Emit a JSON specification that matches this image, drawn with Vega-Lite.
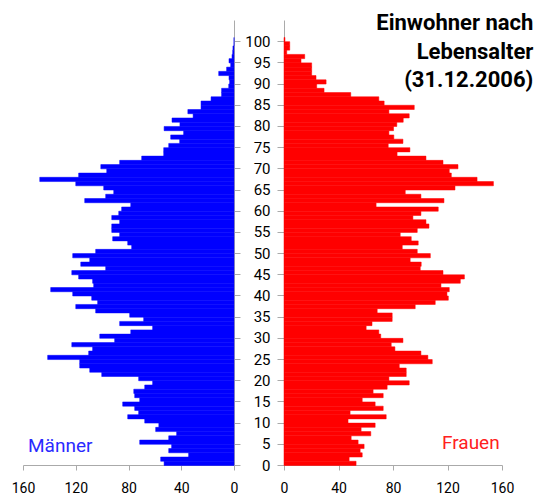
{
  "$schema": "https://vega.github.io/schema/vega-lite/v6.json",
  "padding": {"left": 11, "top": 12, "right": 2, "bottom": 2},
  "config": {
    "view": {"stroke": null},
    "font": "Roboto, Liberation Sans, sans-serif",
    "axis": {
      "grid": false,
      "domainColor": "#aaaaaa",
      "tickColor": "#aaaaaa",
      "labelColor": "#000000",
      "labelFont": "Roboto, Liberation Sans, sans-serif",
      "title": null
    },
    "bar": {"binSpacing": 0}
  },
  "datasets": {
    "pop": [
      {"age":0,"sex":"M","value":53},{"age":1,"sex":"M","value":55.6},{"age":2,"sex":"M","value":34.4},{"age":3,"sex":"M","value":49.5},{"age":4,"sex":"M","value":47.3},
      {"age":5,"sex":"M","value":71.5},{"age":6,"sex":"M","value":49.5},{"age":7,"sex":"M","value":43.5},{"age":8,"sex":"M","value":59.4},{"age":9,"sex":"M","value":57},
      {"age":10,"sex":"M","value":67.7},{"age":11,"sex":"M","value":80.6},{"age":12,"sex":"M","value":72.3},{"age":13,"sex":"M","value":75.3},{"age":14,"sex":"M","value":84.4},
      {"age":15,"sex":"M","value":71.5},{"age":16,"sex":"M","value":75.3},{"age":17,"sex":"M","value":76},{"age":18,"sex":"M","value":67.7},{"age":19,"sex":"M","value":61.7},
      {"age":20,"sex":"M","value":72.3},{"age":21,"sex":"M","value":100.3},{"age":22,"sex":"M","value":109.4},{"age":23,"sex":"M","value":117},{"age":24,"sex":"M","value":117},
      {"age":25,"sex":"M","value":141.3},{"age":26,"sex":"M","value":110.2},{"age":27,"sex":"M","value":107.2},{"age":28,"sex":"M","value":123},{"age":29,"sex":"M","value":90.5},
      {"age":30,"sex":"M","value":101.8},{"age":31,"sex":"M","value":78.3},{"age":32,"sex":"M","value":61.7},{"age":33,"sex":"M","value":86.7},{"age":34,"sex":"M","value":68.5},
      {"age":35,"sex":"M","value":79.1},{"age":36,"sex":"M","value":104.9},{"age":37,"sex":"M","value":120},{"age":38,"sex":"M","value":103.4},{"age":39,"sex":"M","value":107.9},
      {"age":40,"sex":"M","value":122.3},{"age":41,"sex":"M","value":139},{"age":42,"sex":"M","value":106.4},{"age":43,"sex":"M","value":107.2},{"age":44,"sex":"M","value":117.8},
      {"age":45,"sex":"M","value":123},{"age":46,"sex":"M","value":97.3},{"age":47,"sex":"M","value":116.2},{"age":48,"sex":"M","value":109.4},{"age":49,"sex":"M","value":122.3},
      {"age":50,"sex":"M","value":104.9},{"age":51,"sex":"M","value":77.6},{"age":52,"sex":"M","value":80.6},{"age":53,"sex":"M","value":92},{"age":54,"sex":"M","value":86.7},
      {"age":55,"sex":"M","value":92.7},{"age":56,"sex":"M","value":92.7},{"age":57,"sex":"M","value":86.7},{"age":58,"sex":"M","value":92.7},{"age":59,"sex":"M","value":87.4},
      {"age":60,"sex":"M","value":85.2},{"age":61,"sex":"M","value":78.3},{"age":62,"sex":"M","value":113.2},{"age":63,"sex":"M","value":97.3},{"age":64,"sex":"M","value":91.2},
      {"age":65,"sex":"M","value":98.8},{"age":66,"sex":"M","value":120},{"age":67,"sex":"M","value":147.3},{"age":68,"sex":"M","value":117.8},{"age":69,"sex":"M","value":96.5},
      {"age":70,"sex":"M","value":101},{"age":71,"sex":"M","value":86.7},{"age":72,"sex":"M","value":70},{"age":73,"sex":"M","value":53.3},{"age":74,"sex":"M","value":53.3},
      {"age":75,"sex":"M","value":49.5},{"age":76,"sex":"M","value":41.2},{"age":77,"sex":"M","value":48},{"age":78,"sex":"M","value":38.2},{"age":79,"sex":"M","value":53},
      {"age":80,"sex":"M","value":41},{"age":81,"sex":"M","value":47},{"age":82,"sex":"M","value":31},{"age":83,"sex":"M","value":35},{"age":84,"sex":"M","value":25},
      {"age":85,"sex":"M","value":25},{"age":86,"sex":"M","value":17.4},{"age":87,"sex":"M","value":9.4},{"age":88,"sex":"M","value":9.4},{"age":89,"sex":"M","value":4},
      {"age":90,"sex":"M","value":3.3},{"age":91,"sex":"M","value":3.8},{"age":92,"sex":"M","value":11.6},{"age":93,"sex":"M","value":5.6},{"age":94,"sex":"M","value":2.5},
      {"age":95,"sex":"M","value":3.8},{"age":96,"sex":"M","value":1.5},{"age":97,"sex":"M","value":1},{"age":98,"sex":"M","value":0.8},{"age":99,"sex":"M","value":0},
      {"age":100,"sex":"M","value":0},
      {"age":0,"sex":"F","value":52.9},{"age":1,"sex":"F","value":47.8},{"age":2,"sex":"F","value":57.4},{"age":3,"sex":"F","value":55.9},{"age":4,"sex":"F","value":58.8},
      {"age":5,"sex":"F","value":54.4},{"age":6,"sex":"F","value":49.3},{"age":7,"sex":"F","value":63.7},{"age":8,"sex":"F","value":56.6},{"age":9,"sex":"F","value":66.9},
      {"age":10,"sex":"F","value":47},{"age":11,"sex":"F","value":75},{"age":12,"sex":"F","value":48.5},{"age":13,"sex":"F","value":72.8},{"age":14,"sex":"F","value":66.9},
      {"age":15,"sex":"F","value":57.4},{"age":16,"sex":"F","value":72.8},{"age":17,"sex":"F","value":65.4},{"age":18,"sex":"F","value":75.7},{"age":19,"sex":"F","value":91.9},
      {"age":20,"sex":"F","value":77},{"age":21,"sex":"F","value":89.7},{"age":22,"sex":"F","value":89.7},{"age":23,"sex":"F","value":84.6},{"age":24,"sex":"F","value":108.8},
      {"age":25,"sex":"F","value":105.6},{"age":26,"sex":"F","value":100.5},{"age":27,"sex":"F","value":81.4},{"age":28,"sex":"F","value":78.7},{"age":29,"sex":"F","value":87.3},
      {"age":30,"sex":"F","value":71},{"age":31,"sex":"F","value":69.6},{"age":32,"sex":"F","value":60.3},{"age":33,"sex":"F","value":64.6},{"age":34,"sex":"F","value":79.4},
      {"age":35,"sex":"F","value":79.4},{"age":36,"sex":"F","value":68.4},{"age":37,"sex":"F","value":96.3},{"age":38,"sex":"F","value":111},{"age":39,"sex":"F","value":120.6},
      {"age":40,"sex":"F","value":119.6},{"age":41,"sex":"F","value":121.3},{"age":42,"sex":"F","value":115.2},{"age":43,"sex":"F","value":129.4},{"age":44,"sex":"F","value":132.4},
      {"age":45,"sex":"F","value":116.7},{"age":46,"sex":"F","value":100},{"age":47,"sex":"F","value":100.7},{"age":48,"sex":"F","value":92.6},{"age":49,"sex":"F","value":107.4},
      {"age":50,"sex":"F","value":97.8},{"age":51,"sex":"F","value":86.8},{"age":52,"sex":"F","value":98.5},{"age":53,"sex":"F","value":93.4},{"age":54,"sex":"F","value":85.3},
      {"age":55,"sex":"F","value":97.8},{"age":56,"sex":"F","value":106.4},{"age":57,"sex":"F","value":104.2},{"age":58,"sex":"F","value":94.6},{"age":59,"sex":"F","value":100.5},
      {"age":60,"sex":"F","value":113.2},{"age":61,"sex":"F","value":67.6},{"age":62,"sex":"F","value":117.4},{"age":63,"sex":"F","value":100.5},{"age":64,"sex":"F","value":89},
      {"age":65,"sex":"F","value":125.5},{"age":66,"sex":"F","value":153.7},{"age":67,"sex":"F","value":141.7},{"age":68,"sex":"F","value":122.8},{"age":69,"sex":"F","value":121.3},
      {"age":70,"sex":"F","value":127.7},{"age":71,"sex":"F","value":116.7},{"age":72,"sex":"F","value":104.2},{"age":73,"sex":"F","value":83},{"age":74,"sex":"F","value":92.4},
      {"age":75,"sex":"F","value":76.5},{"age":76,"sex":"F","value":87.3},{"age":77,"sex":"F","value":80.6},{"age":78,"sex":"F","value":77},{"age":79,"sex":"F","value":80.4},
      {"age":80,"sex":"F","value":82.8},{"age":81,"sex":"F","value":87.5},{"age":82,"sex":"F","value":91.9},{"age":83,"sex":"F","value":77},{"age":84,"sex":"F","value":95.6},
      {"age":85,"sex":"F","value":73.5},{"age":86,"sex":"F","value":69.6},{"age":87,"sex":"F","value":49},{"age":88,"sex":"F","value":29.4},{"age":89,"sex":"F","value":24},
      {"age":90,"sex":"F","value":30.9},{"age":91,"sex":"F","value":23.5},{"age":92,"sex":"F","value":20.3},{"age":93,"sex":"F","value":20.3},{"age":94,"sex":"F","value":20.3},
      {"age":95,"sex":"F","value":12.5},{"age":96,"sex":"F","value":15.2},{"age":97,"sex":"F","value":2},{"age":98,"sex":"F","value":4.2},{"age":99,"sex":"F","value":4.2},
      {"age":100,"sex":"F","value":0.7}
    ]
  },
  "spacing": 50,
  "bounds": "flush",
  "hconcat": [
    {
      "width": 211,
      "height": 445,
      "layer": [
        {
          "data": {"name": "pop"},
          "transform": [{"filter": "datum.sex === 'M'"}],
          "mark": {"type": "bar", "color": "#0000ff", "stroke": "#0000ff", "strokeWidth": 0.5},
          "encoding": {
            "x": {
              "field": "value", "type": "quantitative",
              "scale": {"domain": [0, 160], "reverse": true, "nice": false},
              "axis": {"values": [0, 40, 80, 120, 160], "tickSize": 5, "labelPadding": 11, "labelFontSize": 14, "labelFlush": false}
            },
            "y": {
              "field": "age", "type": "quantitative",
              "bin": {"binned": true, "step": 1},
              "scale": {"domain": [0, 105], "nice": false, "zero": true},
              "axis": {"orient": "right", "labels": false, "tickSize": 6, "values": [0,5,10,15,20,25,30,35,40,45,50,55,60,65,70,75,80,85,90,95,100]}
            }
          }
        },
        {
          "data": {"values": [{"label": "Männer"}]},
          "mark": {"type": "text", "align": "left", "baseline": "alphabetic", "fontSize": 19, "color": "#2a2aff"},
          "encoding": {
            "x": {"datum": 156.2, "type": "quantitative"},
            "y": {"datum": 3.0, "type": "quantitative"},
            "text": {"field": "label"}
          }
        }
      ]
    },
    {
      "width": 218,
      "height": 445,
      "layer": [
        {
          "data": {"name": "pop"},
          "transform": [{"filter": "datum.sex === 'F'"}],
          "mark": {"type": "bar", "color": "#ff0000", "stroke": "#ff0000", "strokeWidth": 0.5},
          "encoding": {
            "x": {
              "field": "value", "type": "quantitative",
              "scale": {"domain": [0, 160], "nice": false},
              "axis": {"values": [0, 40, 80, 120, 160], "tickSize": 5, "labelPadding": 11, "labelFontSize": 14, "labelFlush": false}
            },
            "y": {
              "field": "age", "type": "quantitative",
              "bin": {"binned": true, "step": 1},
              "scale": {"domain": [0, 105], "nice": false, "zero": true},
              "axis": {"orient": "left", "tickSize": 7, "labelPadding": 7, "labelFontSize": 15, "values": [0,5,10,15,20,25,30,35,40,45,50,55,60,65,70,75,80,85,90,95,100]}
            }
          }
        },
        {
          "data": {"values": [{"label": "Frauen"}]},
          "mark": {"type": "text", "align": "right", "baseline": "alphabetic", "fontSize": 19, "color": "#ff2020"},
          "encoding": {
            "x": {"datum": 158.3, "type": "quantitative"},
            "y": {"datum": 3.8, "type": "quantitative"},
            "text": {"field": "label"}
          }
        },
        {
          "data": {"values": [{"label": ["Einwohner nach", "Lebensalter", "(31.12.2006)"]}]},
          "mark": {"type": "text", "align": "right", "baseline": "alphabetic", "fontSize": 22, "fontWeight": "bold", "lineHeight": 28.5, "color": "#000000"},
          "encoding": {
            "x": {"datum": 183, "type": "quantitative"},
            "y": {"datum": 102.6, "type": "quantitative"},
            "text": {"field": "label"}
          }
        }
      ]
    }
  ]
}
